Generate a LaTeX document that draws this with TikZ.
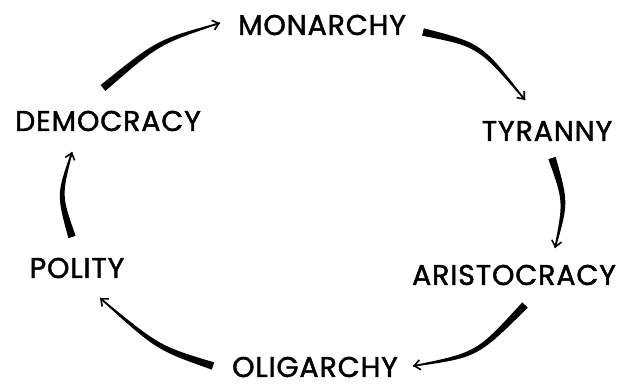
\documentclass[tikz,border=0pt]{standalone}
\usepackage{fontspec}
\setmainfont{Poppins}[FakeBold=1.6, LetterSpace=3]
\usepackage{tikz}
\usetikzlibrary{calc, positioning, arrows.meta}

% seta afilada: cauda, controle, ponta
\newcommand{\setaciclo}[3]{%
  \fill ($(#1)!3.8pt!90:(#2)$) .. controls ($(#2)!2.6pt!90:(#3)$) .. ($(#3)!0.7pt!-90:(#2)$)
     -- ($(#3)!0.7pt!90:(#2)$) .. controls ($(#2)!2.6pt!-90:(#3)$) .. ($(#1)!3.8pt!-90:(#2)$) -- cycle;
  \draw [ponta] ($(#3)!6pt!(#2)$) -- (#3);
}

\begin{document}
\begin{tikzpicture}[x=1pt, y=-1pt]
    % Definindo os estilos
    \tikzstyle{rotulo} = [inner sep=0pt, font=\fontsize{28.5}{30}\selectfont]
    \tikzstyle{ponta} = [line width=1.6pt, -{Straight Barb[length=6pt, width=10pt]}]

    \useasboundingbox (0,0) rectangle (617,388);

    % Formas de governo
    \node [rotulo] (monarchy) at (322,25) {MONARCHY};
    \node [rotulo] (tyranny) at (547,131) {TYRANNY};
    \node [rotulo] (aristocracy) at (514,275) {ARISTOCRACY};
    \node [rotulo] (oligarchy) at (315,367) {OLIGARCHY};
    \node [rotulo] (polity) at (77,268) {POLITY};
    \node [rotulo] (democracy) at (108,121) {DEMOCRACY};

    % Pontas e caudas das setas
    \coordinate (dem_out) at (103,88);   \coordinate (c1) at (158,42);  \coordinate (mon_in) at (220,23);
    \coordinate (mon_out) at (423,32);   \coordinate (c2) at (480,45);  \coordinate (tyr_in) at (525,100);
    \coordinate (tyr_out) at (552,158);  \coordinate (c3) at (566,202); \coordinate (ari_in) at (555,248);
    \coordinate (ari_out) at (525,305);  \coordinate (c4) at (477,355); \coordinate (oli_in) at (413,366);
    \coordinate (oli_out) at (213,366);  \coordinate (c5) at (158,348); \coordinate (pol_in) at (100,298);
    \coordinate (pol_out) at (72,237);   \coordinate (c6) at (59,195);  \coordinate (dem_in) at (72,152);

    % Ciclo
    \setaciclo{dem_out}{c1}{mon_in}
    \setaciclo{mon_out}{c2}{tyr_in}
    \setaciclo{tyr_out}{c3}{ari_in}
    \setaciclo{ari_out}{c4}{oli_in}
    \setaciclo{oli_out}{c5}{pol_in}
    \setaciclo{pol_out}{c6}{dem_in}
\end{tikzpicture}
\end{document}
